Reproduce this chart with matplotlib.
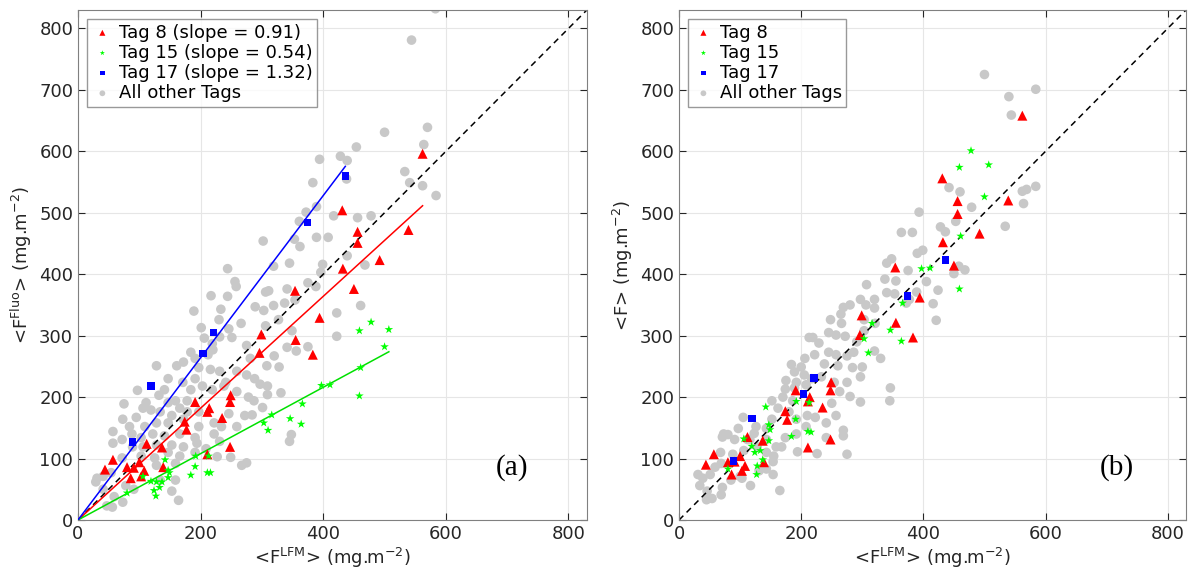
import matplotlib
matplotlib.use("Agg")
import matplotlib.pyplot as plt
import numpy as np

# Tag data: x = <F_LFM>, ya = <F_Fluo> (panel a), yb = <F> (panel b)
x8 = [44, 57, 80, 86, 91, 100, 103, 108, 112, 137, 139, 174, 177, 191, 211, 214, 211, 235,
      248, 249, 248, 296, 299, 354, 355, 383, 394, 431, 432, 450, 456, 456, 492, 539, 562]
ya8 = [82, 98, 86, 68, 85, 94, 71, 80, 124, 118, 86, 160, 147, 192, 176, 182, 107, 166,
       192, 203, 119, 272, 302, 373, 293, 269, 329, 504, 409, 376, 469, 451, 423, 472, 596]
yb8 = [90, 107, 94, 74, 95, 104, 80, 88, 135, 129, 94, 177, 163, 211, 193, 200, 118, 183,
       211, 224, 131, 301, 333, 411, 321, 297, 362, 556, 452, 414, 519, 498, 466, 520, 658]

x15 = [80, 106, 119, 124, 127, 128, 133, 137, 142, 147, 149, 147, 184, 191, 192, 211, 216,
       213, 303, 310, 316, 346, 364, 366, 397, 411, 459, 478, 500, 507, 461, 459]
ya15 = [44, 71, 63, 48, 39, 62, 53, 62, 98, 81, 77, 69, 73, 87, 104, 77, 77,
        104, 158, 146, 171, 165, 156, 189, 219, 220, 308, 322, 282, 310, 248, 202]
yb15 = [83, 132, 120, 110, 74, 88, 113, 98, 184, 155, 147, 129, 136, 164, 193, 144, 143,
        191, 295, 272, 320, 309, 291, 353, 409, 410, 574, 601, 526, 578, 462, 376]

x17 = [89, 119, 204, 221, 374, 436]
ya17 = [127, 218, 271, 305, 484, 560]
yb17 = [96, 165, 205, 231, 365, 423]

slopes = {"8": 0.91, "15": 0.54, "17": 1.32}

# all other tags, panel (a)
gxa = [583, 544, 500, 570, 564, 454, 428, 439, 394, 533, 541, 562, 584, 383, 438, 417, 456, 478,
       372, 389, 361, 353, 362, 389, 408, 439, 468, 399, 345, 396, 302, 319, 375, 388, 341, 311,
       306, 422, 461, 244, 256, 258, 244, 217, 233, 189, 289, 303, 319, 337, 354, 266, 230, 246,
       231, 201, 206, 219, 251, 275, 306, 327, 349, 341, 356, 375, 422, 281, 308, 328, 320, 184,
       172, 161, 128, 220, 212, 191, 197, 216, 231, 259, 275, 288, 297, 241, 191, 171, 147, 141,
       184, 203, 219, 238, 259, 278, 309, 331, 287, 301, 97, 111, 132, 147, 159, 166, 178, 178,
       197, 153, 134, 119, 106, 75, 95, 73, 84, 109, 128, 147, 172, 197, 222, 234, 259, 272,
       222, 191, 166, 141, 122, 103, 88, 57, 72, 57, 89, 106, 128, 153, 172, 194, 209, 231,
       191, 166, 147, 125, 159, 128, 227, 249, 267, 275, 284, 246, 103, 72, 31, 41, 54, 78,
       91, 59, 47, 56, 73, 29, 41, 153, 164, 159, 134, 345, 348, 309]
gya = [832, 781, 631, 639, 611, 607, 592, 585, 587, 567, 549, 544, 528, 549, 555, 495, 492, 495,
       501, 510, 486, 457, 445, 460, 460, 430, 415, 416, 418, 403, 454, 413, 386, 380, 376, 373,
       371, 337, 349, 409, 388, 380, 364, 365, 343, 340, 347, 341, 349, 353, 358, 320, 326, 311,
       298, 313, 296, 287, 297, 284, 316, 326, 308, 281, 275, 282, 299, 263, 251, 249, 267, 273,
       257, 251, 251, 277, 269, 263, 248, 245, 242, 242, 236, 230, 221, 224, 230, 224, 230, 212,
       212, 218, 212, 218, 209, 200, 218, 207, 194, 183, 211, 191, 203, 191, 194, 182, 194, 176,
       176, 170, 176, 179, 182, 189, 167, 164, 152, 152, 158, 158, 164, 152, 158, 152, 152, 170,
       140, 134, 140, 137, 140, 134, 140, 144, 131, 125, 119, 119, 122, 122, 119, 125, 116, 128,
       110, 104, 110, 101, 92, 89, 103, 102, 89, 93, 171, 173, 104, 101, 68, 71, 77, 56,
       50, 38, 23, 21, 29, 62, 50, 47, 32, 65, 65, 128, 139, 204]

# all other tags, panel (b)
gxb = [500, 584, 540, 544, 584, 569, 562, 564, 534, 442, 460, 479, 393, 453, 428, 436, 364, 382,
       458, 468, 450, 390, 399, 348, 340, 375, 405, 424, 416, 421, 337, 307, 355, 340, 353, 389,
       377, 372, 320, 297, 306, 280, 269, 320, 248, 265, 266, 303, 321, 245, 257, 272, 229, 213,
       219, 291, 245, 257, 275, 286, 320, 330, 303, 222, 206, 238, 260, 284, 300, 184, 200, 189,
       205, 217, 233, 254, 275, 297, 175, 192, 208, 174, 189, 263, 280, 297, 250, 257, 346, 345,
       152, 170, 186, 162, 180, 192, 210, 223, 241, 269, 269, 208, 192, 174, 168, 194, 152, 143,
       126, 123, 112, 105, 97, 91, 73, 80, 71, 143, 159, 143, 128, 106, 88, 68, 69, 59,
       51, 39, 31, 34, 46, 54, 45, 69, 71, 117, 131, 143, 154, 155, 165, 154, 226, 275,
       241, 100, 103, 85, 116]
gyb = [725, 701, 689, 659, 543, 538, 535, 515, 478, 541, 534, 509, 501, 486, 477, 469, 468, 468,
       413, 407, 401, 434, 439, 425, 418, 406, 388, 374, 352, 325, 392, 383, 389, 370, 368, 371,
       359, 353, 359, 359, 350, 350, 346, 345, 326, 335, 320, 326, 320, 305, 301, 299, 288, 297,
       297, 290, 273, 269, 267, 273, 275, 263, 308, 269, 263, 254, 251, 248, 249, 253, 249, 241,
       236, 230, 233, 224, 224, 233, 227, 224, 220, 213, 215, 209, 201, 192, 190, 170, 215, 194,
       194, 200, 194, 182, 176, 164, 170, 167, 158, 146, 137, 152, 140, 134, 119, 111, 164, 149,
       152, 141, 131, 167, 149, 131, 140, 139, 135, 131, 119, 110, 119, 113, 107, 110, 92, 86,
       74, 68, 74, 56, 47, 35, 33, 41, 53, 56, 80, 83, 74, 104, 48, 95, 108, 107,
       134, 71, 68, 65, 131]

grey = "#c8c8c8"
frame = "#262626"

plt.rcParams["font.family"] = "DejaVu Sans"
fig = plt.figure(figsize=(11.89, 5.77), dpi=100)
axa = fig.add_axes([0.0656, 0.0988, 0.428, 0.8839])
axb = fig.add_axes([0.5711, 0.0988, 0.4264, 0.8839])


def draw(ax, gx, gy, y8, y15, y17, labels, fits):
    ax.plot([0, 830], [0, 830], "k--", lw=1.1, dashes=(4, 3), zorder=2)
    ax.scatter(gx, gy, s=48, color=grey, edgecolors="none", zorder=1, label=labels[3])
    ax.scatter(x8, y8, s=52, marker="^", color="red", edgecolors="none", zorder=4, label=labels[0])
    ax.scatter(x15, y15, s=42, marker="*", color="#00ff00", edgecolors="none", zorder=4, label=labels[1])
    ax.scatter(x17, y17, s=30, marker="s", color="blue", edgecolors="none", zorder=4, label=labels[2])
    if fits:
        for xs, k, c in [(x8, slopes["8"], "red"), (x15, slopes["15"], "#00e000"), (x17, slopes["17"], "blue")]:
            xe = max(xs)
            ax.plot([0, xe], [0, k * xe], color=c, lw=1.1, zorder=3)
    ax.set_xlim(0, 830)
    ax.set_ylim(0, 830)
    ax.set_xticks([0, 200, 400, 600, 800])
    ax.set_yticks(range(0, 801, 100))
    ax.grid(True, color="#e6e6e6", lw=0.8)
    ax.set_axisbelow(True)
    ax.tick_params(direction="in", top=True, right=True, labelsize=13, colors=frame, length=5)
    for s in ax.spines.values():
        s.set_color("#808080")
    ax.set_xlabel(r"<F$^{\mathrm{LFM}}$> (mg.m$^{\mathrm{-2}}$)", fontsize=13, color=frame, labelpad=2)
    h, l = ax.get_legend_handles_labels()
    order = [1, 2, 3, 0]
    leg = ax.legend([h[i] for i in order], [l[i] for i in order], loc="upper left", fontsize=13,
                    frameon=True, fancybox=False, edgecolor="#808080", handletextpad=0.3,
                    borderpad=0.25, labelspacing=0.12, handlelength=1.2, markerscale=0.6,
                    borderaxespad=0.5)
    leg.get_frame().set_linewidth(1.0)


draw(axa, gxa, gya, ya8, ya15, ya17,
     ["Tag 8 (slope = 0.91)", "Tag 15 (slope = 0.54)", "Tag 17 (slope = 1.32)", "All other Tags"], True)
axa.set_ylabel(r"<F$^{\mathrm{Fluo}}$> (mg.m$^{\mathrm{-2}}$)", fontsize=13, color=frame, labelpad=4)
axa.text(708, 85, "(a)", fontsize=21, family="Liberation Serif", ha="center", va="center")

draw(axb, gxb, gyb, yb8, yb15, yb17, ["Tag 8", "Tag 15", "Tag 17", "All other Tags"], False)
axb.set_ylabel(r"<F> (mg.m$^{\mathrm{-2}}$)", fontsize=13, color=frame, labelpad=4)
axb.text(716, 85, "(b)", fontsize=21, family="Liberation Serif", ha="center", va="center")

fig.savefig("out.png", dpi=100)
